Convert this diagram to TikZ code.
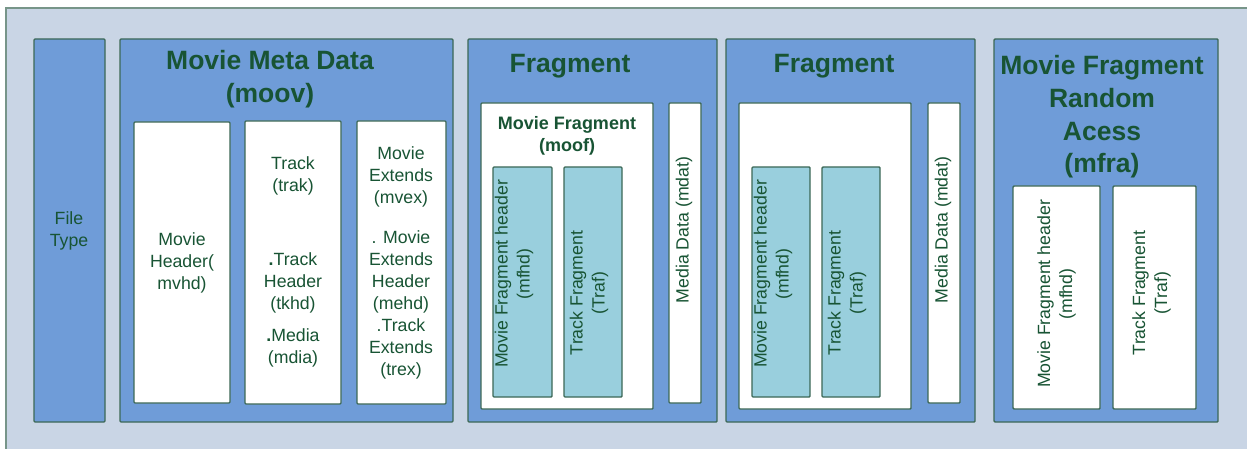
\documentclass[tikz,border=0pt]{standalone}
\usepackage{fontspec}
\setmainfont{Liberation Sans}
\definecolor{pagebg}{RGB}{201,213,229}
\definecolor{boxblue}{RGB}{111,156,216}
\definecolor{boxteal}{RGB}{153,207,221}
\definecolor{edge}{RGB}{60,104,86}
\definecolor{ink}{RGB}{24,84,52}
\begin{document}
\begin{tikzpicture}[x=1pt,y=-1pt,
  box/.style={draw=edge,line width=1.4pt,rounded corners=1pt,inner sep=0pt},
  blue/.style={box,fill=boxblue},
  white/.style={box,fill=white},
  teal/.style={box,fill=boxteal},
  ttl/.style={text=ink,align=center,inner sep=0pt,font=\fontsize{26.5}{32.7}\selectfont\bfseries},
  sub/.style={text=ink,align=center,inner sep=0pt,font=\fontsize{18}{22}\selectfont\bfseries},
  lbl/.style={text=ink,align=center,inner sep=0pt,font=\fontsize{17.7}{22}\selectfont},
  vlbl/.style={lbl,rotate=90}]
\useasboundingbox (0,0) rectangle (1247,449);
% page background
\fill[pagebg] (6,8) rectangle (1252,455);
\draw[edge!70,line width=1.2pt] (6,455) -- (6,8) -- (1252,8);

% file type
\node[blue,minimum width=71pt,minimum height=383pt] (ftyp) at (69.5,230.5) {};
\node[lbl] (ftypt) at (69,230.5) {File\\Type};

% movie meta data
\node[blue,minimum width=333pt,minimum height=383pt] (moov) at (286.5,230.5) {};
\node[ttl] (moovt) at (270,79) {Movie Meta Data\\(moov)};
\node[white,minimum width=96pt,minimum height=281pt] (mvhd) at (182,262.5) {};
\node[lbl] (mvhdt) at (182,263) {Movie\\Header(\\mvhd)};
\node[white,minimum width=96pt,minimum height=283pt] (trak) at (293,262.5) {};
\node[lbl] (trakt) at (293,176) {Track\\(trak)};
\node[lbl] (tkhdt) at (293,283) {\textbf{.}Track\\Header\\(tkhd)};
\node[lbl] (mdiat) at (293,347.5) {\textbf{.}Media\\(mdia)};
\node[white,minimum width=89pt,minimum height=283pt] (mvex) at (401.5,262.5) {};
\node[lbl] (mvext) at (401,177) {Movie\\Extends\\(mvex)};
\node[lbl] (mehdt) at (401,305) {. Movie\\Extends\\Header\\(mehd)\\.Track\\Extends\\(trex)};

% first fragment
\node[blue,minimum width=249pt,minimum height=383pt] (fragA) at (592.5,230.5) {};
\node[ttl] (fragAt) at (570,66) {Fragment};
\node[white,minimum width=172pt,minimum height=306pt] (moofA) at (567,256) {};
\node[sub] (moofAt) at (567,136) {Movie Fragment\\(moof)};
\node[teal,minimum width=59pt,minimum height=230pt] (mfhdA) at (522.5,282) {};
\node[vlbl] (mfhdAt) at (514,274) {Movie Fragment header\\(mfhd)};
\node[teal,minimum width=58pt,minimum height=230pt] (trafA) at (593,282) {};
\node[vlbl] (trafAt) at (589,293) {Track Fragment\\(Traf)};
\node[white,minimum width=32pt,minimum height=300pt] (mdatA) at (685,253) {};
\node[vlbl] (mdatAt) at (684,230) {Media Data (mdat)};

% second fragment
\node[blue,minimum width=249pt,minimum height=383pt] (fragB) at (850.5,230.5) {};
\node[ttl] (fragBt) at (834,66) {Fragment};
\node[white,minimum width=172pt,minimum height=306pt] (moofB) at (825,256) {};
\node[teal,minimum width=58pt,minimum height=230pt] (mfhdB) at (781,282) {};
\node[vlbl] (mfhdBt) at (773,274) {Movie Fragment header\\(mfhd)};
\node[teal,minimum width=58pt,minimum height=230pt] (trafB) at (851,282) {};
\node[vlbl] (trafBt) at (847,293) {Track Fragment\\(Traf)};
\node[white,minimum width=32pt,minimum height=300pt] (mdatB) at (944,253) {};
\node[vlbl] (mdatBt) at (943,230) {Media Data (mdat)};

% movie fragment random access
\node[blue,minimum width=224pt,minimum height=383pt] (mfra) at (1106,230.5) {};
\node[ttl] (mfrat) at (1102,117) {Movie Fragment\\Random\\Acess\\(mfra)};
\node[white,minimum width=87pt,minimum height=223pt] (mfhdC) at (1056.5,297.5) {};
\node[vlbl] (mfhdCt) at (1056.5,294) {Movie Fragment header\\(mfhd)};
\node[white,minimum width=83pt,minimum height=223pt] (trafC) at (1154.5,297.5) {};
\node[vlbl] (trafCt) at (1151.5,293) {Track Fragment\\(Traf)};
\end{tikzpicture}
\end{document}
